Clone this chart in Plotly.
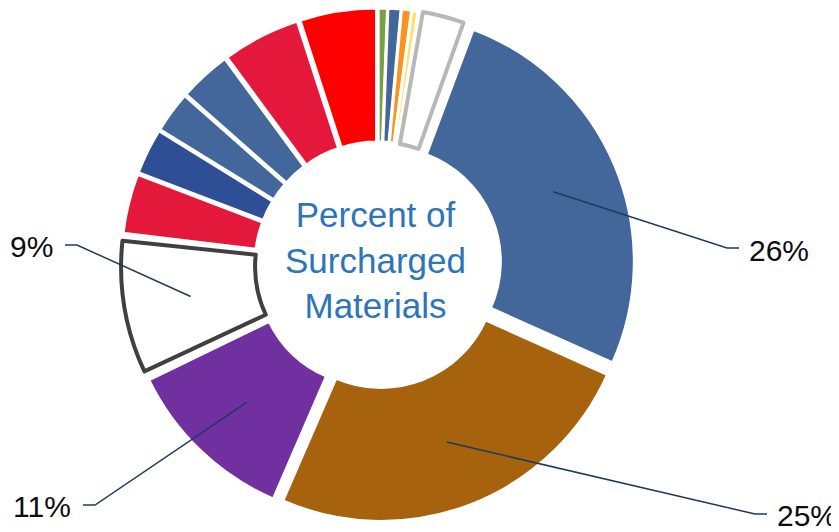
import plotly.graph_objects as go
import math

# ---- data (clockwise from 12 o'clock) ----
categories = ["Item A", "Item B", "Item C", "Item D", "Item E", "Item F", "Item G",
              "Item H", "Item I", "Item J", "Item K", "Item L", "Item M", "Item N", "Item O"]
values = [0.6, 0.85, 0.65, 0.4, 3.2, 26.0, 24.8, 11.3, 9.1, 3.9, 3.0, 2.7, 3.4, 5.1, 5.0]
fill_colors = ["#76A043", "#44679B", "#F7931E", "#FFE265", "#FFFFFF", "#44679B", "#A6620D",
               "#7030A0", "#FFFFFF", "#E4183A", "#2E4E95", "#44679B", "#44679B", "#E4183A", "#FF0000"]
outline_colors = {4: "#B8B8B8", 8: "#404040"}   # outlined (white) slices
labelled = [5, 6, 7, 8]                         # slices that get a percentage label
center_title = "Percent of<br>Surcharged<br>Materials"

# ---- layout geometry (page pixels; page body has an 8px margin) ----
W, H = 839, 532
OFF = 8
CX, CY, RD = 378, 265, 257
HOLE = 0.46
PULL = 0.036
LW = 3


def px2paper(x, y):
    return (x - OFF) / W, 1 - (y - OFF) / H


x0, y1 = px2paper(CX - RD, CY - RD)
x1, y0 = px2paper(CX + RD, CY + RD)
dom_x = [max(0.0, x0), min(1.0, x1)]
dom_y = [max(0.0, y0), min(1.0, y1)]

fig = go.Figure()

# main donut (exploded slices, thin white borders)
fig.add_trace(go.Pie(
    labels=categories, values=values, sort=False, direction="clockwise", rotation=0,
    hole=HOLE, domain=dict(x=dom_x, y=dom_y), pull=PULL,
    marker=dict(colors=fill_colors, line=dict(color="#FFFFFF", width=LW)),
    textinfo="none", hoverinfo="label+percent", showlegend=False,
))

# outline overlay for the white slices (inset with small pads)
pad = 0.25
o_vals, o_lcol, o_lw, o_lab = [], [], [], []
for i, v in enumerate(values):
    if i in outline_colors:
        o_vals += [pad, v - 2 * pad, pad]
        o_lcol += ["rgba(0,0,0,0)", outline_colors[i], "rgba(0,0,0,0)"]
        o_lw += [0, 4, 0]
        o_lab += [f"{categories[i]} pad1", categories[i] + " ", f"{categories[i]} pad2"]
    else:
        o_vals.append(v)
        o_lcol.append("rgba(0,0,0,0)")
        o_lw.append(0)
        o_lab.append(categories[i] + "  ")
fig.add_trace(go.Pie(
    labels=o_lab, values=o_vals, sort=False, direction="clockwise", rotation=0,
    hole=HOLE, domain=dict(x=dom_x, y=dom_y), pull=PULL,
    marker=dict(colors=["rgba(0,0,0,0)"] * len(o_vals), line=dict(color=o_lcol, width=o_lw)),
    textinfo="none", hoverinfo="skip", showlegend=False,
))

# ---- labels with leader lines ----
total = sum(values)
cum = 0
mids = []
for v in values:
    mids.append((cum + v / 2) / total * 2 * math.pi)
    cum += v

# label placement (elbow point in px, horizontal direction, text anchor point)
label_layout = {
    5: dict(elbow=(727, 248), dx=12, text=(747, 250), anchor="left"),
    6: dict(elbow=(755, 514), dx=12, text=(775, 515), anchor="left"),
    7: dict(elbow=(95, 505), dx=-12, text=(73, 506), anchor="right"),
    8: dict(elbow=(77, 245), dx=-12, text=(55, 246), anchor="right"),
}

shapes = []
annotations = []
for i in labelled:
    a = mids[i]
    sx, sy = CX + 190 * math.sin(a), CY - 190 * math.cos(a)
    L = label_layout[i]
    ex, ey = L["elbow"]
    fx, fy = ex + L["dx"], ey
    p = [px2paper(sx, sy), px2paper(ex, ey), px2paper(fx, fy)]
    shapes.append(dict(type="path", xref="paper", yref="paper",
                       path=f"M {p[0][0]} {p[0][1]} L {p[1][0]} {p[1][1]} L {p[2][0]} {p[2][1]}",
                       line=dict(color="#1F3B5C", width=1.5)))
    tx, ty = px2paper(*L["text"])
    annotations.append(dict(x=tx, y=ty, xref="paper", yref="paper", showarrow=False,
                            text=f"{round(values[i] / total * 100)}%", xanchor=L["anchor"],
                            yanchor="middle", font=dict(size=30, color="#0D0D0D",
                                                        family="Liberation Sans, Arial")))

cx_p, cy_p = px2paper(CX - 3, CY - 5)
annotations.append(dict(x=cx_p, y=cy_p, xref="paper", yref="paper", showarrow=False,
                        text=center_title, xanchor="center", yanchor="middle",
                        font=dict(size=35, color="#2E75B6", family="Liberation Sans, Arial")))

fig.update_layout(
    width=W, height=H, margin=dict(l=0, r=0, t=0, b=0),
    paper_bgcolor="white", plot_bgcolor="white",
    shapes=shapes, annotations=annotations,
)

fig.write_html("out.html")
